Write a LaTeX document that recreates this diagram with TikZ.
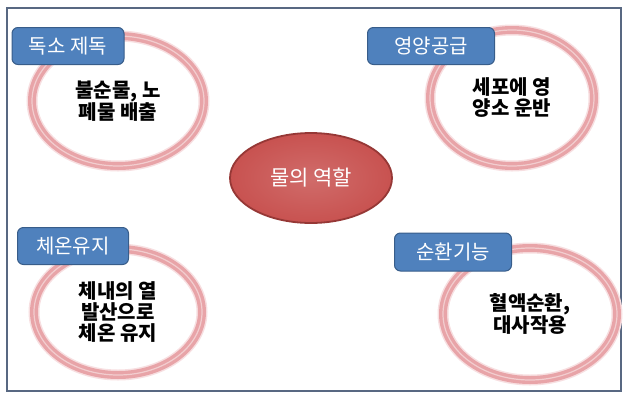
\documentclass[tikz,border=0pt]{standalone}
\usepackage{fontspec}
\setmainfont{Noto Sans CJK KR}
\usetikzlibrary{shapes.geometric}

\definecolor{ringpink}{RGB}{232,164,168}
\definecolor{tagblue}{RGB}{79,129,189}
\definecolor{tagedge}{RGB}{56,93,138}
\definecolor{corered}{RGB}{200,82,80}
\definecolor{coreedge}{RGB}{150,56,54}
\definecolor{frame}{RGB}{88,104,130}

\tikzset{
  ring/.style={ellipse, draw=ringpink, line width=3.4pt, double=ringpink!55!white,
    double distance=1.2pt, preaction={draw=ringpink!35, line width=11pt},
    align=center, font=\fontsize{20}{21}\selectfont\bfseries},
  tag/.style={rectangle, rounded corners=6pt, fill=tagblue, draw=tagedge,
    line width=1pt, text=white, font=\fontsize{20}{22}\selectfont},
  core/.style={ellipse, draw=coreedge, line width=1.8pt, inner color=corered!85!white,
    outer color=corered, text=white, font=\fontsize{21}{22}\selectfont}
}

\begin{document}
\begin{tikzpicture}[x=1pt,y=-1pt]
\useasboundingbox (0,0) rectangle (630,400);
\draw[frame, line width=1.4pt] (7,8) rectangle (621,391);

% centre
\node[core, minimum width=162, minimum height=90] (water) at (311,178) {물의 역할};

% four roles
\node[ring, minimum width=172, minimum height=130] (toxin) at (118,101) {불순물, 노\\폐물 배출};
\node[ring, minimum width=164, minimum height=136] (food) at (512,98) {세포에 영\\양소 운반};
\node[ring, minimum width=168, minimum height=126] (heat) at (118,312) {체내의 열\\발산으로\\체온 유지};
\node[ring, minimum width=174, minimum height=132] (flow) at (530,314) {혈액순환,\\대사작용};

% labels
\node[tag, minimum width=112, minimum height=37] (toxintag) at (68,46) {독소 제독};
\node[tag, minimum width=127, minimum height=37] (foodtag) at (431,46) {영양공급};
\node[tag, minimum width=111, minimum height=37] (heattag) at (73,246) {체온유지};
\node[tag, minimum width=117, minimum height=38] (flowtag) at (453,252) {순환기능};
\end{tikzpicture}
\end{document}
